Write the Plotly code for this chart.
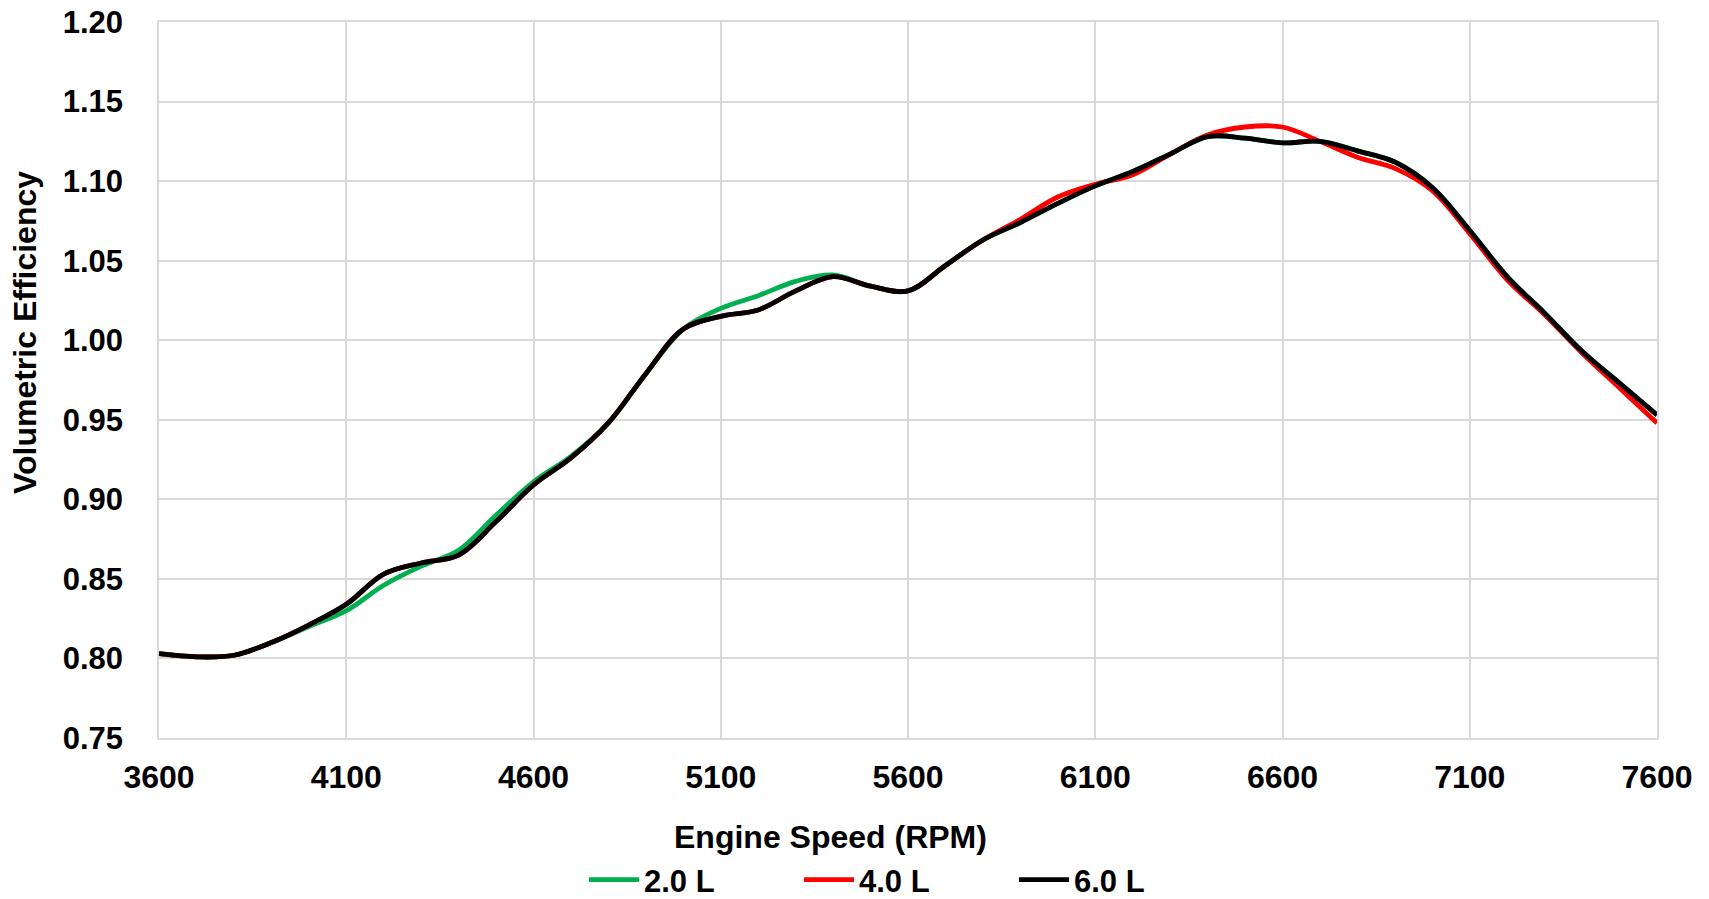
import plotly.graph_objects as go

# Engine speed sweep (RPM)
rpm = [3600, 3700, 3800, 3900, 4000, 4100, 4200, 4300, 4400, 4500,
       4600, 4700, 4800, 4900, 5000, 5100, 5200, 5300, 5400, 5500,
       5600, 5700, 5800, 5900, 6000, 6100, 6200, 6300, 6400, 6500,
       6600, 6700, 6800, 6900, 7000, 7100, 7200, 7300, 7400, 7500, 7600]

# Volumetric efficiency for each plenum volume
ve_2l = [0.803, 0.801, 0.802, 0.810, 0.820, 0.830, 0.846, 0.858, 0.868, 0.890,
         0.911, 0.927, 0.948, 0.979, 1.007, 1.020, 1.028, 1.037, 1.041, 1.034,
         1.031, 1.047, 1.063, 1.074, 1.086, 1.097, 1.106, 1.117, 1.128, 1.127,
         1.124, 1.125, 1.119, 1.112, 1.096, 1.069, 1.040, 1.017, 0.993, 0.973, 0.953]

ve_4l = [0.803, 0.801, 0.802, 0.810, 0.821, 0.834, 0.853, 0.860, 0.865, 0.886,
         0.909, 0.926, 0.948, 0.979, 1.007, 1.015, 1.019, 1.031, 1.040, 1.034,
         1.031, 1.047, 1.063, 1.076, 1.090, 1.098, 1.104, 1.117, 1.129, 1.134,
         1.134, 1.125, 1.115, 1.108, 1.094, 1.067, 1.038, 1.016, 0.992, 0.970, 0.948]

ve_6l = [0.803, 0.801, 0.802, 0.810, 0.821, 0.834, 0.853, 0.860, 0.865, 0.886,
         0.909, 0.926, 0.948, 0.979, 1.007, 1.015, 1.019, 1.031, 1.040, 1.034,
         1.031, 1.047, 1.063, 1.074, 1.086, 1.097, 1.106, 1.117, 1.128, 1.127,
         1.124, 1.125, 1.119, 1.112, 1.096, 1.069, 1.040, 1.017, 0.993, 0.973, 0.953]

series_names = ["2.0 L", "4.0 L", "6.0 L"]
series_colors = ["#00B050", "#FF0000", "#000000"]
x_ticks = [3600, 4100, 4600, 5100, 5600, 6100, 6600, 7100, 7600]
y_ticks = [0.75, 0.80, 0.85, 0.90, 0.95, 1.00, 1.05, 1.10, 1.15, 1.20]

FONT = "Arial, 'Liberation Sans', sans-serif"
W, H = 1709, 899
L, R, T, B = 159, 52, 22, 161
pw = W - L - R
ph = H - T - B

fig = go.Figure()
for name, vals, col in zip(series_names, [ve_2l, ve_4l, ve_6l], series_colors):
    fig.add_trace(go.Scatter(
        x=rpm, y=vals, name=name, mode="lines",
        line=dict(color=col, width=4.8, shape="spline", smoothing=1.0),
    ))

grid = "#D9D9D9"
bold32 = dict(family=FONT, size=32, color="black", weight="bold")
bold31 = dict(family=FONT, size=31, color="black", weight="bold")

fig.update_layout(
    width=W, height=H,
    margin=dict(l=L, r=R, t=T, b=B, pad=0, autoexpand=False),
    paper_bgcolor="white", plot_bgcolor="white",
    font=bold32,
    showlegend=True,
    legend=dict(
        orientation="h", x=(584 - L) / pw, xanchor="left",
        y=-(880 - (T + ph)) / ph, yanchor="middle",
        font=bold31,
        entrywidth=150, entrywidthmode="pixels",
        itemwidth=50, bgcolor="rgba(0,0,0,0)",
    ),
    xaxis=dict(
        range=[3600, 7600], tickvals=x_ticks, automargin=False,
        showgrid=True, gridcolor=grid, gridwidth=1.5,
        showline=True, linecolor=grid, linewidth=1.5, mirror=True,
        ticks="", zeroline=False,
        tickfont=bold32,
        ticklabelstandoff=10,
    ),
    yaxis=dict(
        range=[0.75, 1.20], tickvals=y_ticks, tickformat=".2f", automargin=False,
        showgrid=True, gridcolor=grid, gridwidth=1.5,
        showline=True, linecolor=grid, linewidth=1.5, mirror=True,
        ticks="", zeroline=False,
        tickfont=bold31,
        ticklabelstandoff=28,
    ),
    annotations=[
        dict(text="Engine Speed (RPM)", xref="paper", yref="paper",
             x=(830 - L) / pw, y=-(837 - (T + ph)) / ph,
             xanchor="center", yanchor="middle", showarrow=False,
             font=bold32),
        dict(text="Volumetric Efficiency", xref="paper", yref="paper",
             x=(25 - L) / pw, y=1 - (333 - T) / ph, textangle=-90,
             xanchor="center", yanchor="middle", showarrow=False,
             font=bold32),
    ],
)

fig.write_html("out.html")
